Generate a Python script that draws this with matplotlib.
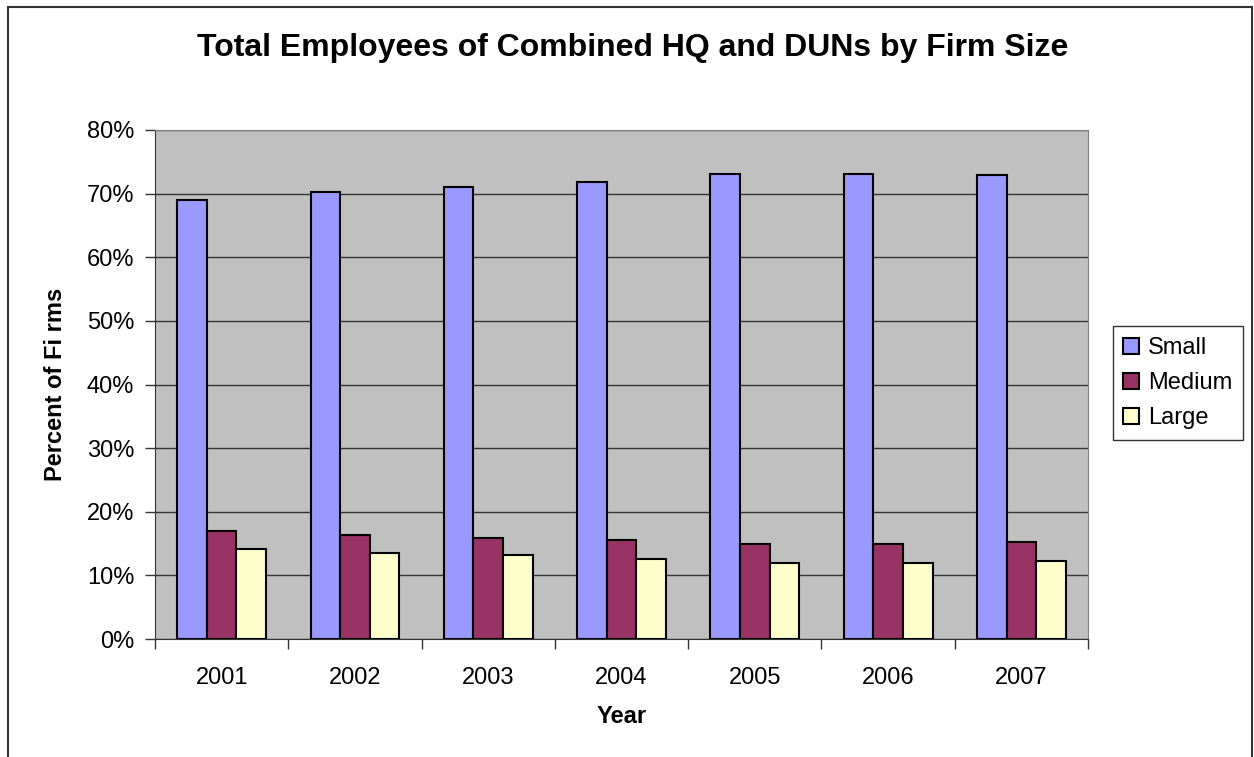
import numpy as np
import matplotlib
matplotlib.use('Agg')
import matplotlib.pyplot as plt
from matplotlib.patches import Rectangle
from matplotlib.ticker import PercentFormatter

plt.rcParams['font.family'] = ['Liberation Sans', 'DejaVu Sans']

# Data (percent of firms)
years = ['2001', '2002', '2003', '2004', '2005', '2006', '2007']
small = [69.0, 70.2, 71.1, 71.9, 73.1, 73.1, 72.9]
medium = [17.0, 16.4, 15.8, 15.5, 15.0, 15.0, 15.2]
large = [14.1, 13.5, 13.2, 12.6, 12.0, 12.0, 12.3]

W, H = 1254, 757
fig = plt.figure(figsize=(W / 100, H / 100), dpi=100)
ax = fig.add_axes([155 / W, 1 - 639 / H, (1088 - 155) / W, (639 - 130) / H])

# outer chart border (bottom edge runs off the image)
fig.patches.append(Rectangle((8 / W, -0.05), (1252 - 8) / W, 1 - 7 / H + 0.05,
                             transform=fig.transFigure, fill=False,
                             edgecolor='#333333', linewidth=1.5, clip_on=False))

x = np.arange(len(years))
bw = 1 / 4.5
ax.bar(x - bw, small, bw, color='#9999FF', edgecolor='black', linewidth=1.5, label='Small', zorder=3)
ax.bar(x, medium, bw, color='#993366', edgecolor='black', linewidth=1.5, label='Medium', zorder=3)
ax.bar(x + bw, large, bw, color='#FFFFCC', edgecolor='black', linewidth=1.5, label='Large', zorder=3)

ax.set_facecolor('#C0C0C0')
ax.set_xlim(-0.5, len(years) - 0.5)
ax.set_ylim(0, 80)
ax.set_yticks(np.arange(0, 81, 10))
ax.yaxis.set_major_formatter(PercentFormatter(decimals=0))
ax.yaxis.grid(True, color='#333333', linewidth=1, zorder=0)
ax.set_axisbelow(True)

ax.set_xticks(x)
ax.set_xticklabels(years)
ax.set_xticks(np.arange(-0.5, len(years)), minor=True)
ax.tick_params(axis='x', which='major', length=0, labelsize=17, pad=20)
ax.tick_params(axis='x', which='minor', length=7, width=1, color='#333333')
ax.tick_params(axis='y', length=7, width=1, color='#333333', labelsize=17, pad=8)

for s in ['top', 'right']:
    ax.spines[s].set_color('#808080')
ax.spines['left'].set_color('#333333')
ax.spines['bottom'].set_color('#333333')

ax.set_xlabel('Year', fontsize=17, fontweight='bold', labelpad=12)
ax.set_ylabel('Percent of Fi rms', fontsize=17, fontweight='bold', labelpad=14)
fig.text(633 / W, 1 - 48 / H, 'Total Employees of Combined HQ and DUNs by Firm Size',
         ha='center', va='center', fontsize=23, fontweight='bold')

leg = fig.legend(loc='center', bbox_to_anchor=(1178 / W, 1 - 383 / H), fontsize=17,
                 frameon=True, fancybox=False, edgecolor='black', handlelength=0.65,
                 handleheight=0.65, handletextpad=0.4, labelspacing=0.55, borderpad=0.45,
                 borderaxespad=0)
leg.get_frame().set_linewidth(1)

fig.savefig('out.png', dpi=100)
